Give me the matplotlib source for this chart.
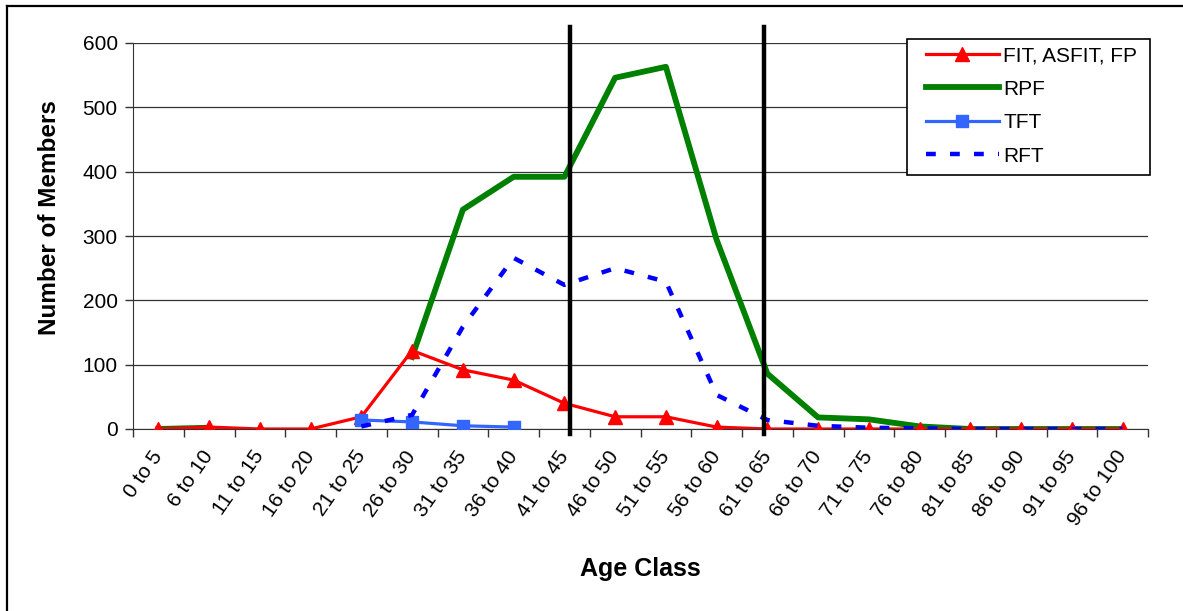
import numpy as np
import matplotlib
matplotlib.use("Agg")
import matplotlib.pyplot as plt
from matplotlib.lines import Line2D
from matplotlib.patches import Rectangle

plt.rcParams["font.family"] = ["Liberation Sans", "DejaVu Sans"]

# age classes on the x axis
age_classes = [
    "0 to 5", "6 to 10", "11 to 15", "16 to 20", "21 to 25", "26 to 30",
    "31 to 35", "36 to 40", "41 to 45", "46 to 50", "51 to 55", "56 to 60",
    "61 to 65", "66 to 70", "71 to 75", "76 to 80", "81 to 85", "86 to 90",
    "91 to 95", "96 to 100",
]
nan = np.nan
fit_asfit_fp = [0, 3, 0, 0, 19, 122, 92, 76, 40, 19, 19, 3, 0, 0, 0, 0, 0, 0, 0, 0]
rpf = [0, 2, nan, nan, nan, 112, 341, 392, 392, 546, 563, 294, 86, 18, 15, 4, 0, 0, 0, 0]
tft = [nan, nan, nan, nan, 14, 11, 5, 3, nan, nan, nan, nan, nan, nan, nan, nan, nan, nan, nan, nan]
rft = [nan, nan, nan, nan, 4, 22, 159, 266, 224, 250, 229, 53, 14, 5, 2, 1, 0, 0, 0, 0]

# marker lines drawn across the chart (in category units)
vline_x = [8.11, 11.93]
y_ticks = [0, 100, 200, 300, 400, 500, 600]

W, H = 1183, 611
fig = plt.figure(figsize=(W / 100, H / 100), dpi=100)
ax = fig.add_axes([133 / W, 1 - 429 / H, (1148 - 133) / W, (429 - 43) / H])

x = np.arange(len(age_classes))
ax.plot(x, rpf, color="#008000", lw=4.2, zorder=3, label="RPF")
ax.plot(x, fit_asfit_fp, color="#FF0000", lw=2.3, marker="^", ms=10.5, zorder=4,
        label="FIT, ASFIT, FP")
ax.plot(x, tft, color="#3366FF", lw=2.3, marker="s", ms=8, zorder=5, label="TFT")
ax.plot(x, rft, color="#0000FF", lw=3.2, dashes=(2.2, 3.2), zorder=6, label="RFT")

for vx in vline_x:
    ax.axvline(vx, ymin=-0.013, ymax=1.041, color="black", lw=3.2, clip_on=False, zorder=7)

ax.set_xlim(-0.5, len(age_classes) - 0.5)
ax.set_ylim(0, 600)
ax.set_yticks(y_ticks)
ax.yaxis.grid(True, color="#333333", lw=0.9)
ax.set_axisbelow(True)
for s in ["top", "right"]:
    ax.spines[s].set_visible(False)
ax.spines["left"].set_color("#333333")
ax.spines["bottom"].set_color("#333333")
ax.tick_params(axis="y", labelsize=15, length=6, width=1, color="#333333", pad=5)

ax.set_xticks(x)
ax.set_xticklabels(age_classes, rotation=55, ha="right", va="center",
                   rotation_mode="anchor", fontsize=15)
ax.tick_params(axis="x", which="major", length=0, pad=17)
ax.set_xticks(np.arange(-0.5, len(age_classes)), minor=True)
ax.tick_params(axis="x", which="minor", length=6, width=1, color="#333333")

fig.text(640 / W, 1 - 576 / H, "Age Class", fontsize=18, fontweight="bold",
         ha="center", va="baseline")
fig.text(49 / W, 1 - 218 / H, "Number of Members", fontsize=17.5, fontweight="bold",
         ha="center", va="center", rotation=90)

# legend frame box, drawn under the legend entries
ax.add_patch(Rectangle((907 / W, 1 - 175 / H), (1150 - 907) / W, (175 - 39) / H,
                       transform=fig.transFigure, facecolor="white",
                       edgecolor="black", lw=1.2, zorder=9, clip_on=False))

handles = [
    Line2D([], [], color="#FF0000", lw=2.3, marker="^", ms=10.5),
    Line2D([], [], color="#008000", lw=4.2),
    Line2D([], [], color="#3366FF", lw=2.3, marker="s", ms=8),
    Line2D([], [], color="#0000FF", lw=3.2, dashes=(2.2, 3.2)),
]
leg = ax.legend(handles, ["FIT, ASFIT, FP", "RPF", "TFT", "RFT"],
                loc="upper left", bbox_to_anchor=(926 / W, 1 - 46 / H),
                bbox_transform=fig.transFigure, fontsize=15, frameon=False,
                handlelength=3.5, handletextpad=0.2, labelspacing=0.7,
                borderpad=0, borderaxespad=0)
leg.set_zorder(10)

# outer chart border (top and left visible)
fig.add_artist(Line2D([7 / W, 1], [1 - 6 / H, 1 - 6 / H], color="black", lw=1.6,
                      transform=fig.transFigure))
fig.add_artist(Line2D([7 / W, 7 / W], [0, 1 - 6 / H], color="black", lw=1.6,
                      transform=fig.transFigure))

fig.savefig("out.png", dpi=100)
